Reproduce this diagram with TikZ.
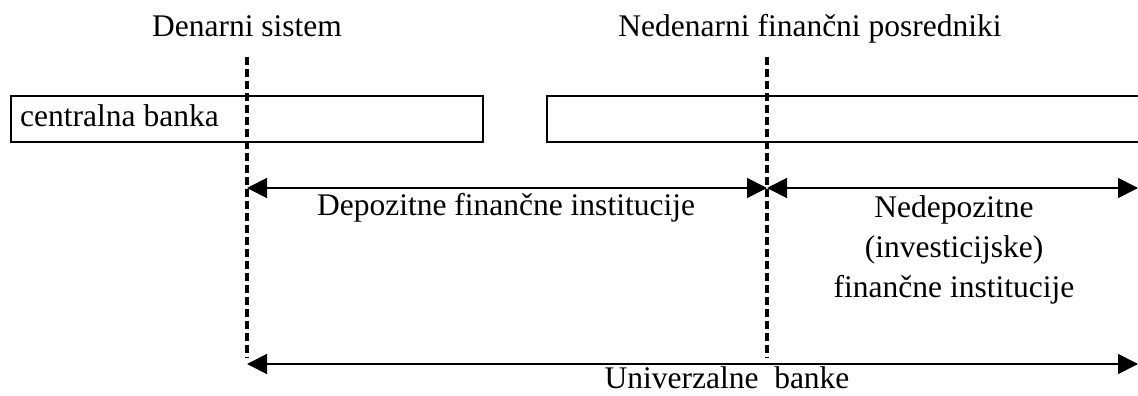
\documentclass[tikz,border=0pt]{standalone}
\usepackage{fontspec}
\setmainfont{Liberation Serif}
\usetikzlibrary{arrows.meta}
\begin{document}
\begin{tikzpicture}[x=1pt,y=-1pt,
  lbl/.style={inner sep=0pt,anchor=base,font=\fontsize{31.5}{38}\selectfont},
  boxline/.style={line width=2.6pt},
  divider/.style={line width=3.4pt,dash pattern=on 8pt off 4pt},
  span/.style={line width=1.8pt,{Triangle[length=20pt,width=20pt]}-{Triangle[length=20pt,width=20pt]}}]
\useasboundingbox (0,0) rectangle (1138,396);
% titles
\node[lbl] (t1) at (247,37) {Denarni sistem};
\node[lbl] (t2) at (810,37) {Nedenarni finančni posredniki};
% boxes
\draw[boxline] (11,96) rectangle (483,142);
\node[lbl,anchor=base west] (cb) at (20,126) {centralna banka};
\draw[boxline] (1140,96) -- (547,96) -- (547,142) -- (1140,142);
% dividers
\coordinate (d1t) at (247,57);
\coordinate (d1b) at (247,358);
\coordinate (d2t) at (767,57);
\coordinate (d2b) at (767,358);
\draw[divider] (d1t) -- (d1b);
\draw[divider] (d2t) -- (d2b);
% spans
\coordinate (a1l) at (247,188);
\coordinate (a1r) at (767,188);
\coordinate (a2r) at (1138,188);
\coordinate (a3l) at (247,364);
\coordinate (a3r) at (1138,364);
\draw[span] (a1l) -- (a1r);
\draw[span] (a1r) -- (a2r);
\draw[span] (a3l) -- (a3r);
% labels
\node[lbl] (dep) at (506,215) {Depozitne finančne institucije};
\node[lbl] (nd1) at (954,217) {Nedepozitne};
\node[lbl] (nd2) at (954,257) {(investicijske)};
\node[lbl] (nd3) at (954,297) {finančne institucije};
\node[lbl] (ub) at (727,388) {Univerzalne\ \ banke};
\end{tikzpicture}
\end{document}
